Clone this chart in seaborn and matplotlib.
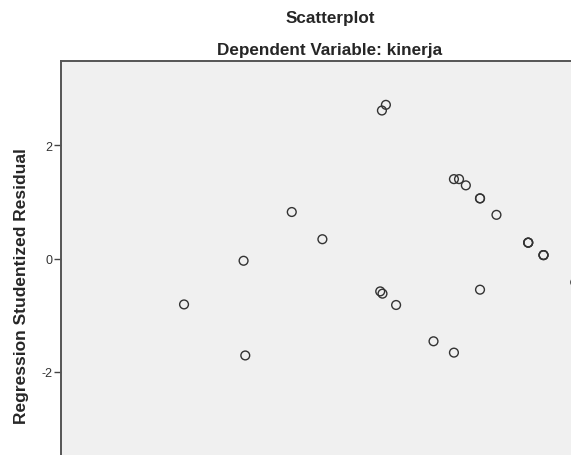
import numpy as np
import pandas as pd
import matplotlib
matplotlib.use("Agg")
import matplotlib.pyplot as plt
import seaborn as sns

# values (predicted value is on an arbitrary scale,
# the x axis itself is cut off in the reference)
predicted = [2.17, 3.22, 3.25, 4.07, 4.61, 5.66, 5.73, 5.63, 5.67, 5.91,
             6.57, 6.93, 6.93, 7.02, 7.14, 7.39, 7.39, 7.39, 7.68,
             8.24, 8.24, 8.24, 8.51, 8.51, 8.51, 9.07]
residual = [-0.81, -0.04, -1.71, 0.82, 0.34, 2.61, 2.71, -0.58, -0.62, -0.82,
            -1.46, -1.66, 1.40, 1.40, 1.29, 1.06, 1.06, -0.55, 0.77,
            0.28, 0.28, 0.28, 0.06, 0.06, 0.06, -0.42]

df = pd.DataFrame({"pred": predicted, "resid": residual})

sns.set_style("white")
plt.rcParams["font.family"] = ["Liberation Sans", "DejaVu Sans"]

W, H = 571, 456
fig = plt.figure(figsize=(W / 100, H / 100), dpi=100)
fig.patch.set_facecolor("white")

# axes box in pixels: left 61, top 62, runs past right/bottom edge
left_px, top_px, right_px, bottom_px = 61, 62, 600, 510
ax = fig.add_axes([left_px / W, 1 - bottom_px / H,
                   (right_px - left_px) / W, (bottom_px - top_px) / H])
ax.set_facecolor("#f0f0f0")

ppu = 56.7   # pixels per unit
zero_px = 259.5
ax.set_ylim((zero_px - bottom_px) / ppu, (zero_px - top_px) / ppu)
ax.set_xlim(0, (right_px - left_px) / ppu)

sns.scatterplot(data=df, x="pred", y="resid", ax=ax,
                marker="o", s=40, facecolor="none",
                edgecolor="#333333", linewidth=1.0, legend=False)

ax.set_yticks([-2, 0, 2])
ax.set_yticklabels(["-2", "0", "2"])
ax.set_xticks([])
ax.tick_params(axis="y", direction="out", length=5, width=1,
               color="#444444", labelsize=9, labelcolor="#333333", pad=1,
               left=True)
for side, sp in ax.spines.items():
    sp.set_color("#555555")
    sp.set_linewidth(1.4)

ax.set_xlabel("")
ax.set_ylabel("Regression Studentized Residual", fontsize=12.5,
              fontweight="bold", labelpad=9)

fig.text(330 / W, 1 - 19 / H, "Scatterplot", ha="center", va="center",
         fontsize=12.3, fontweight="bold")
fig.text(330 / W, 1 - 50 / H, "Dependent Variable: kinerja", ha="center",
         va="center", fontsize=12.3, fontweight="bold")

fig.savefig("out.png", dpi=100)
